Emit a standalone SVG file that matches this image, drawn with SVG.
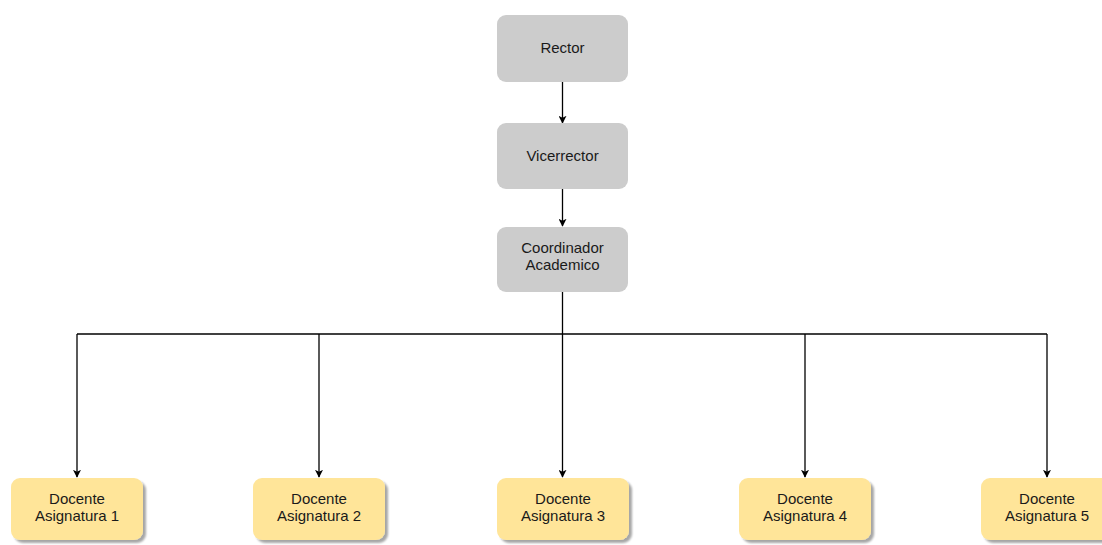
<svg xmlns="http://www.w3.org/2000/svg" width="1102" height="545" viewBox="0 0 1102 545">
<defs>
<marker id="arr" viewBox="0 0 10 10" refX="9" refY="5" markerWidth="8" markerHeight="8" markerUnits="userSpaceOnUse" orient="auto">
<path d="M0,0 L10,5 L0,10 L2.5,5 Z" fill="#000"/>
</marker>
<filter id="sh" x="-10%" y="-10%" width="130%" height="130%">
<feGaussianBlur in="SourceAlpha" stdDeviation="1.2"/>
<feOffset dx="3" dy="3"/>
<feComponentTransfer><feFuncA type="linear" slope="0.35"/></feComponentTransfer>
<feMerge><feMergeNode/><feMergeNode in="SourceGraphic"/></feMerge>
</filter>
</defs>
<style>
.g{fill:#cccccc;stroke:none}
.y{fill:#ffe599;stroke:none;filter:url(#sh)}
text{font-family:"Liberation Sans",Arial,sans-serif;font-size:15px;fill:#1a1a1a;text-anchor:middle}
.c{fill:none;stroke:#000;stroke-width:1.3}
</style>
<rect width="1102" height="545" fill="#fff"/>
<g id="connectors">
<path class="c" d="M562.5,82 V123" marker-end="url(#arr)"/>
<path class="c" d="M562.5,189 V226" marker-end="url(#arr)"/>
<path class="c" d="M562.5,292 V477" marker-end="url(#arr)"/>
<path class="c" d="M77,334 H1047"/>
<path class="c" d="M77,334 V477" marker-end="url(#arr)"/>
<path class="c" d="M319,334 V477" marker-end="url(#arr)"/>
<path class="c" d="M805,334 V477" marker-end="url(#arr)"/>
<path class="c" d="M1047,334 V477" marker-end="url(#arr)"/>
</g>
<g id="rector"><rect class="g" x="497" y="15" width="131" height="67" rx="9"/><text x="562.5" y="53">Rector</text></g>
<g id="vicerrector"><rect class="g" x="497" y="123" width="131" height="66" rx="9"/><text x="562.5" y="161">Vicerrector</text></g>
<g id="coordinador"><rect class="g" x="497" y="227" width="131" height="65" rx="9"/><text x="562.5" y="253">Coordinador</text><text x="562.5" y="270">Academico</text></g>
<g id="docente1"><rect class="y" x="11" y="478" width="132" height="62" rx="9"/><text x="77" y="504">Docente</text><text x="77" y="521">Asignatura 1</text></g>
<g id="docente2"><rect class="y" x="253" y="478" width="132" height="62" rx="9"/><text x="319" y="504">Docente</text><text x="319" y="521">Asignatura 2</text></g>
<g id="docente3"><rect class="y" x="497" y="478" width="132" height="62" rx="9"/><text x="563" y="504">Docente</text><text x="563" y="521">Asignatura 3</text></g>
<g id="docente4"><rect class="y" x="739" y="478" width="132" height="62" rx="9"/><text x="805" y="504">Docente</text><text x="805" y="521">Asignatura 4</text></g>
<g id="docente5"><rect class="y" x="981" y="478" width="132" height="62" rx="9"/><text x="1047" y="504">Docente</text><text x="1047" y="521">Asignatura 5</text></g>
</svg>
